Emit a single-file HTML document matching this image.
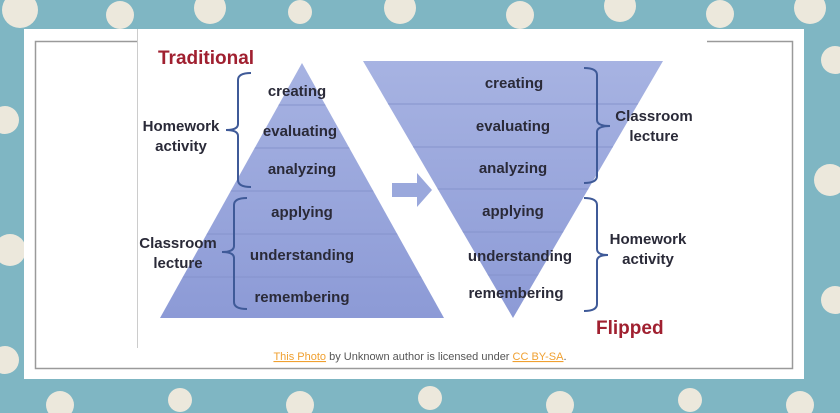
<!DOCTYPE html>
<html><head><style>
body{margin:0;width:840px;height:413px;overflow:hidden;background:#7fb6c3;font-family:"Liberation Sans",sans-serif;}
</style></head><body>
<svg width="840" height="413" xmlns="http://www.w3.org/2000/svg" style="position:absolute;left:0;top:0">
<defs>
<linearGradient id="g" x1="0" y1="0" x2="0" y2="1"><stop offset="0" stop-color="#a7b3e2"/><stop offset="1" stop-color="#8c9ad6"/></linearGradient>
<clipPath id="lt"><polygon points="302,63 160,318 444,318"/></clipPath>
<clipPath id="rt"><polygon points="363,61 663,61 513,318"/></clipPath>
</defs>
<g fill="#ece8dc">
<circle cx="20" cy="10" r="18"/><circle cx="120" cy="15" r="14"/><circle cx="210" cy="8" r="16"/><circle cx="300" cy="12" r="12"/><circle cx="400" cy="8" r="16"/><circle cx="520" cy="15" r="14"/><circle cx="620" cy="6" r="16"/><circle cx="720" cy="14" r="14"/><circle cx="810" cy="8" r="16"/>
<circle cx="5" cy="120" r="14"/><circle cx="10" cy="250" r="16"/><circle cx="5" cy="360" r="14"/>
<circle cx="835" cy="60" r="14"/><circle cx="830" cy="180" r="16"/><circle cx="835" cy="300" r="14"/>
<circle cx="60" cy="405" r="14"/><circle cx="180" cy="400" r="12"/><circle cx="300" cy="405" r="14"/><circle cx="430" cy="398" r="12"/><circle cx="560" cy="405" r="14"/><circle cx="690" cy="400" r="12"/><circle cx="800" cy="405" r="14"/>
</g>
<rect x="24" y="29" width="780" height="350" fill="#fff"/>
<rect x="35.5" y="41.5" width="757" height="327" fill="none" stroke="#9a9a9a" stroke-width="1.5"/>
<rect x="137" y="29" width="570" height="320" fill="#fff"/>
<line x1="137.5" y1="29" x2="137.5" y2="348" stroke="#ccc"/>
<g clip-path="url(#lt)"><rect x="150" y="60" width="300" height="260" fill="url(#g)"/>
<g stroke="#8593cc" stroke-width="1"><line x1="150" y1="105" x2="450" y2="105"/><line x1="150" y1="148" x2="450" y2="148"/><line x1="150" y1="191" x2="450" y2="191"/><line x1="150" y1="234" x2="450" y2="234"/><line x1="150" y1="277" x2="450" y2="277"/></g></g>
<g clip-path="url(#rt)"><rect x="360" y="60" width="310" height="260" fill="url(#g)"/>
<g stroke="#8593cc" stroke-width="1"><line x1="360" y1="104" x2="670" y2="104"/><line x1="360" y1="147" x2="670" y2="147"/><line x1="360" y1="189" x2="670" y2="189"/><line x1="360" y1="232" x2="670" y2="232"/><line x1="360" y1="275" x2="670" y2="275"/></g></g>
<polygon points="392,183 417,183 417,173 432,190 417,207 417,197 392,197" fill="#9aa8dc"/>
<g fill="none" stroke="#3f5a98" stroke-width="2">
<path d="M251,73 Q238,73 238,80 L238,124 Q238,130 226,130 Q238,130 238,136 L238,180 Q238,187 251,187"/>
<path d="M247,198 Q234,198 234,205 L234,246 Q234,252 222,252 Q234,252 234,258 L234,302 Q234,309 247,309"/>
<path d="M584,68 Q597,68 597,75 L597,120 Q597,126 610,126 Q597,126 597,132 L597,176 Q597,183 584,183"/>
<path d="M584,198 Q597,198 597,205 L597,249 Q597,255 608,255 Q597,255 597,261 L597,304 Q597,311 584,311"/>
</g>
<g font-size="15" font-weight="bold" fill="#2a2a38" text-anchor="middle">
<text x="297" y="96">creating</text><text x="300" y="136">evaluating</text><text x="302" y="174">analyzing</text>
<text x="302" y="217">applying</text><text x="302" y="260">understanding</text><text x="302" y="302">remembering</text>
<text x="514" y="88">creating</text><text x="513" y="131">evaluating</text><text x="513" y="173">analyzing</text>
<text x="513" y="216">applying</text><text x="520" y="261">understanding</text><text x="516" y="298">remembering</text>
<text x="181" y="131">Homework</text><text x="181" y="151">activity</text>
<text x="178" y="248">Classroom</text><text x="178" y="268">lecture</text>
<text x="654" y="121">Classroom</text><text x="654" y="141">lecture</text>
<text x="648" y="244">Homework</text><text x="648" y="264">activity</text>
</g>
<text x="158" y="64" font-size="19" font-weight="bold" fill="#a02030">Traditional</text>
<text x="596" y="334" font-size="19" font-weight="bold" fill="#a02030">Flipped</text>
<text x="420" y="360" font-size="11" fill="#555" text-anchor="middle"><tspan fill="#f0a030" text-decoration="underline">This Photo</tspan> by Unknown author is licensed under <tspan fill="#f0a030" text-decoration="underline">CC BY-SA</tspan>.</text>
</svg>
</body></html>
